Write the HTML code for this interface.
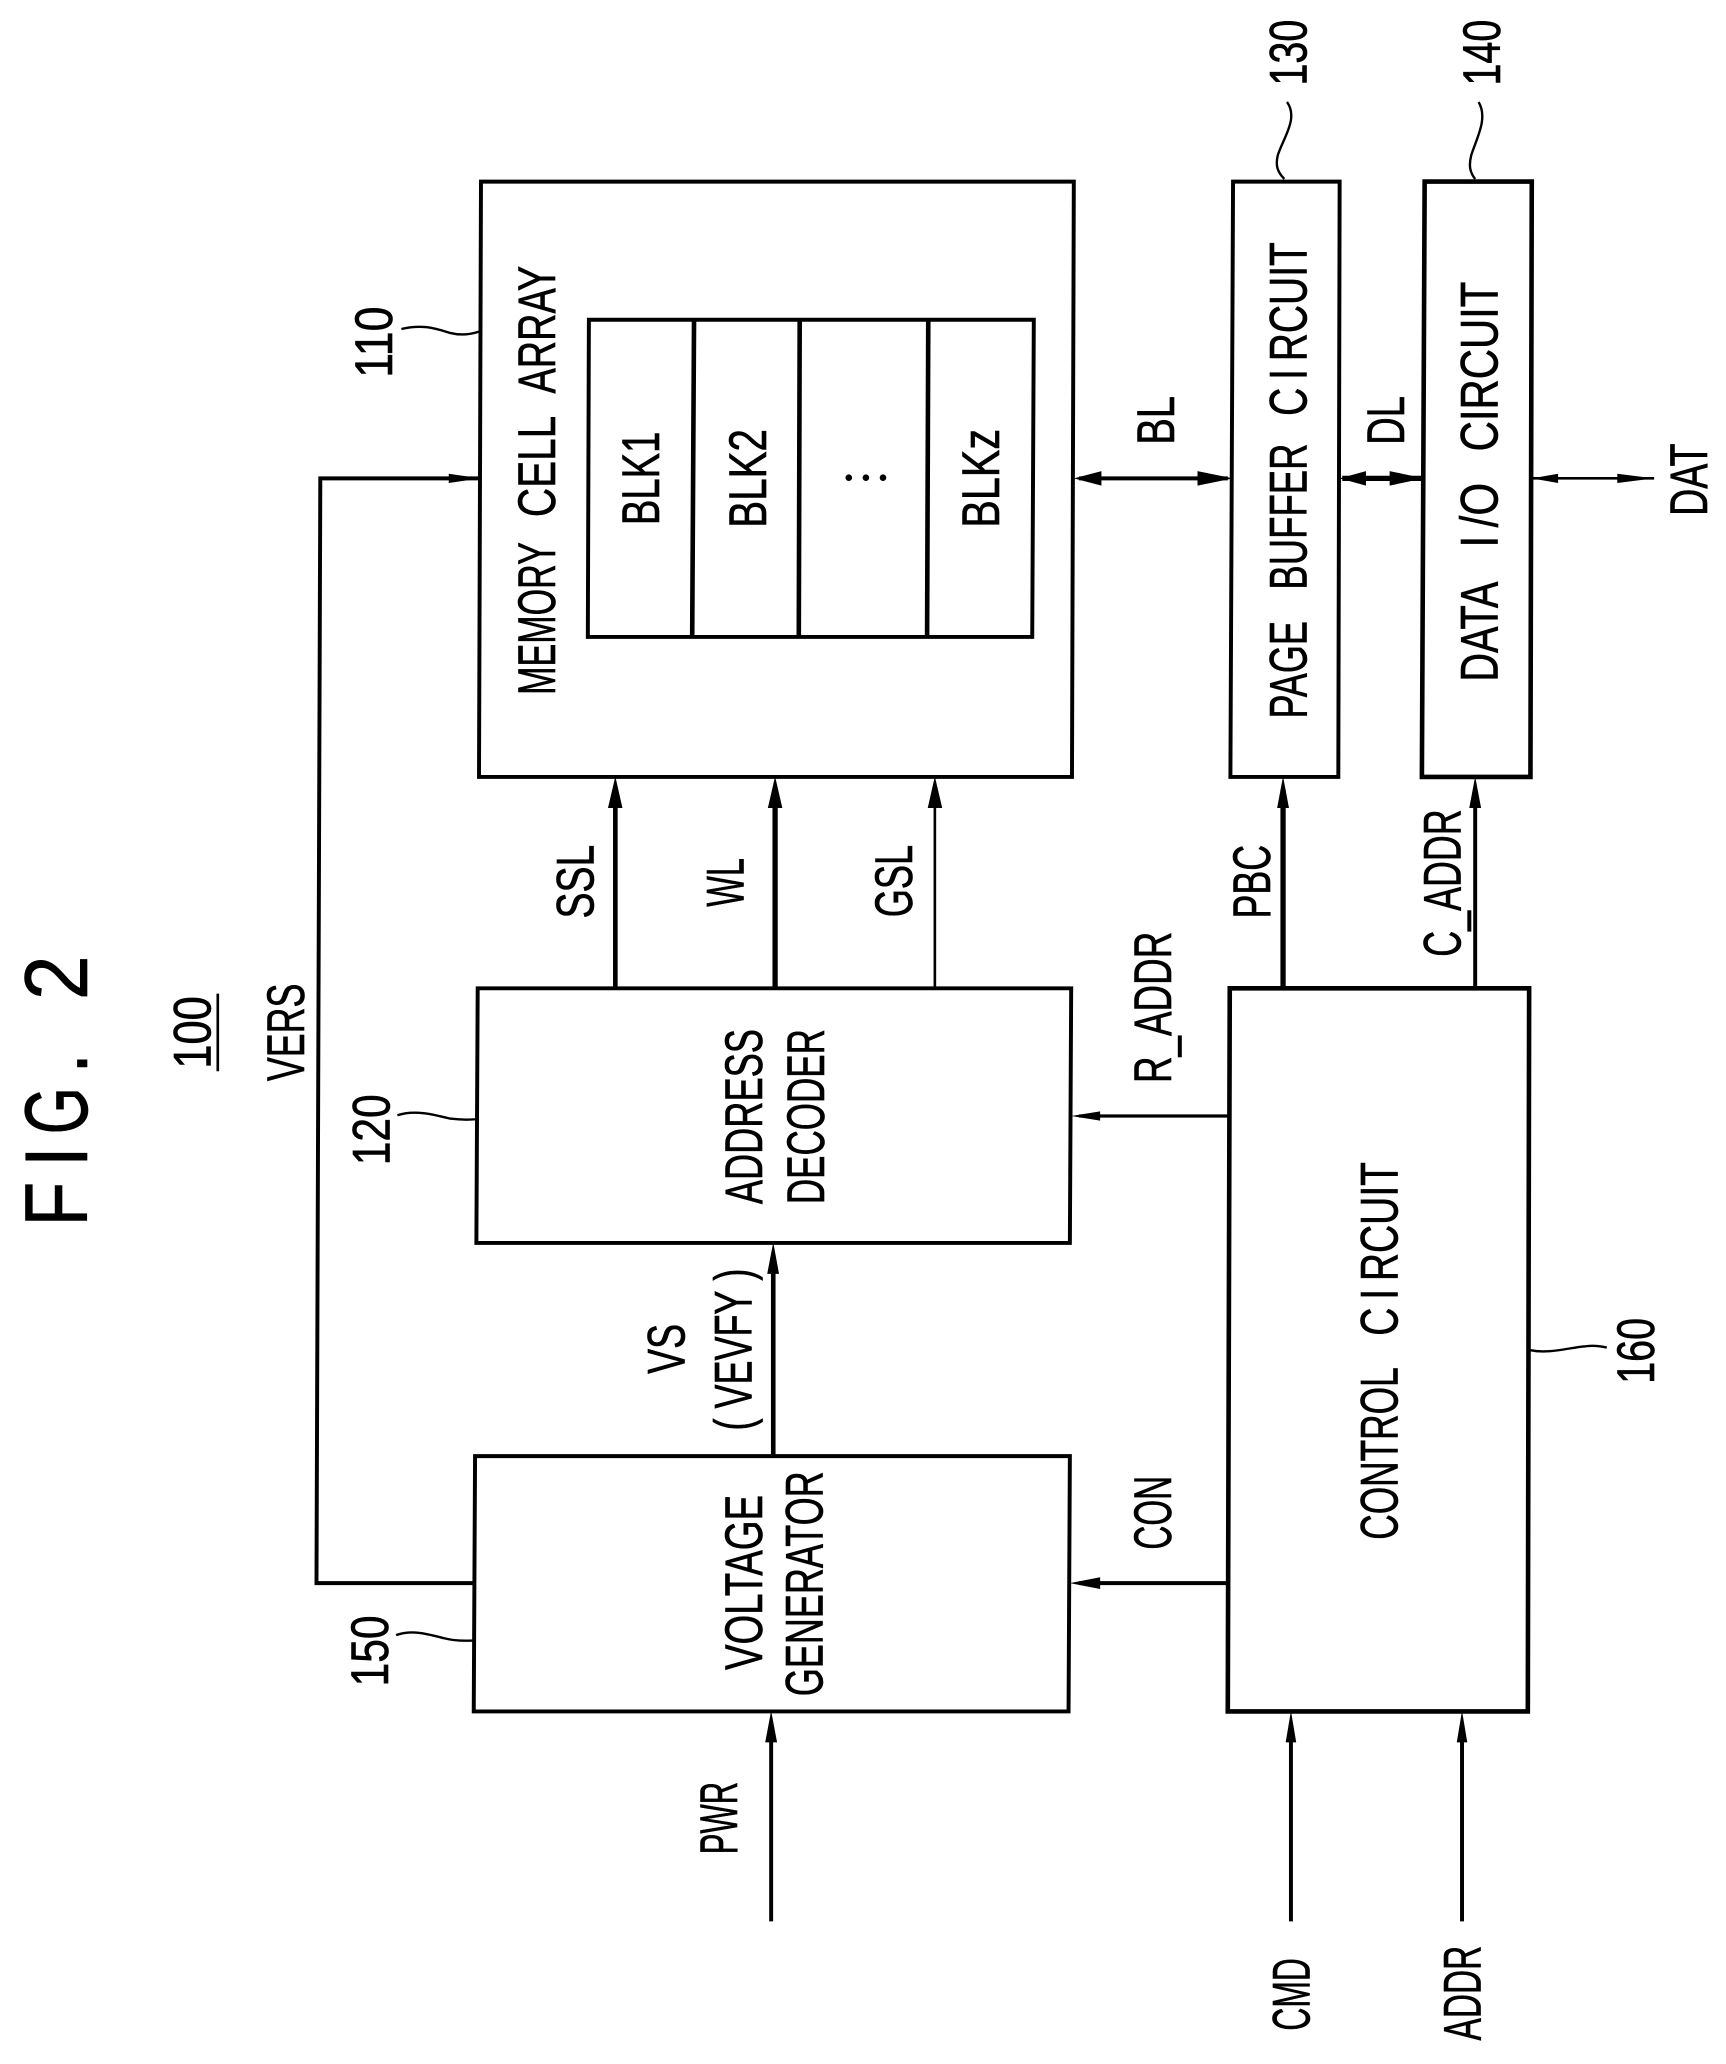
<!DOCTYPE html>
<html><head><meta charset="utf-8"><style>
html,body{margin:0;padding:0;background:#fff}
svg{display:block}
text{font-family:"Liberation Sans",sans-serif;font-size:40px;fill:#000;stroke:#000;stroke-width:.5}
.b{fill:none;stroke:#000;stroke-width:3}
.l{fill:none;stroke:#000}
.w{fill:none;stroke:#000;stroke-width:1.8}
</style></head><body>
<svg width="1726" height="2064" viewBox="0 0 1311.6 1568.4" preserveAspectRatio="none" xmlns="http://www.w3.org/2000/svg">
<rect width="1312" height="1569" fill="#fff"/>
<!-- boxes -->
<polygon class="b" points="365.5,138 816,138 814.6,590.4 364,590.4"/>
<polygon class="b" points="447.5,243 785.6,243 784.4,484 446.7,484"/>
<path class="l" stroke-width="3.5" d="M527.4,243L526,484M607.7,243L607,484M705.4,243L704.5,484"/>
<polygon class="b" points="937,138 1018,138 1017,590.4 935,590.4"/>
<polygon class="b" style="stroke-width:3.5" points="1082.6,138 1164,138 1163,590.4 1080.5,590.4"/>
<polygon class="b" points="363,751 814,751 813,944.5 362,944.5"/>
<polygon class="b" points="361,1106.5 813,1106.5 812,1300.5 360,1300.5"/>
<polygon class="b" style="stroke-width:3.5" points="934.5,751 1162,751 1161,1300.5 933,1300.5"/>
<!-- VERS -->
<path class="l" stroke-width="3" d="M361,1203H240.5L243.4,363.5H365"/>
<polygon points="365,363.5 341,360 341,367"/>
<!-- up arrows -->
<path class="l" stroke-width="3.5" d="M467.6,751V600"/><polygon points="467.6,590 462,614 473,614"/>
<path class="l" stroke-width="4" d="M589,751V600"/><polygon points="589,590 583.5,614 594.5,614"/>
<path class="l" stroke-width="2" d="M710.4,751V600"/><polygon points="710.4,590 705,614 716,614"/>
<path class="l" stroke-width="4" d="M975,751V600"/><polygon points="975,590 970.5,614 979.5,614"/>
<path class="l" stroke-width="3" d="M1121,751V600"/><polygon points="1121,590 1116.5,614 1125.5,614"/>
<path class="l" stroke-width="3.5" d="M587.6,1106V955"/><polygon points="587.6,944 583,968 592,968"/>
<path class="l" stroke-width="3" d="M586,1460V1310"/><polygon points="586,1300 581.5,1324 590.5,1324"/>
<path class="l" stroke-width="3" d="M981,1460V1310"/><polygon points="981,1300 977,1324 985,1324"/>
<path class="l" stroke-width="3" d="M1111,1460V1310"/><polygon points="1111,1300 1107,1324 1115,1324"/>
<!-- left arrows -->
<path class="l" stroke-width="2.5" d="M934,848H820"/><polygon points="814,848 836,844.5 836,851.5"/>
<path class="l" stroke-width="3" d="M933,1203H820"/><polygon points="813,1203 836,1198.5 836,1207.5"/>
<!-- double arrows -->
<path class="l" stroke-width="3" d="M820,363.5H933"/><polygon points="816,363.5 837,358 837,369"/><polygon points="937,363.5 910,358 910,369"/>
<path class="l" stroke-width="4" d="M1020,363.5H1080"/><polygon points="1018,363.5 1038,358 1038,369"/><polygon points="1082,363.5 1056,358 1056,369"/>
<path class="l" stroke-width="2" d="M1165,363.5H1257"/><polygon points="1164,363.5 1184,360 1184,367"/><polygon points="1257,363.5 1229,360 1229,367"/>
<!-- leaders -->
<path class="w" d="M305,250C322,246 332,250 342,253C350,255 358,254 364,252"/>
<path class="w" d="M302,847.5C315,843 330,847 342,850C350,851 356,851 362,850.5"/>
<path class="w" d="M301,1242.5C314,1238 326,1242 338,1245C346,1247 354,1247 360.5,1246.5"/>
<path class="w" d="M978,77.5C987,90 975,105 971,118C969,126 971,131 976,136"/>
<path class="w" d="M1123.6,77.5C1131,90 1122,105 1118,118C1116,126 1117,131 1121,136"/>
<path class="w" d="M1163,1026C1177,1029 1192,1024 1205,1023C1212,1022 1217,1023 1221,1024"/>
<!-- dots -->
<circle cx="645" cy="363" r="2.5"/><circle cx="658" cy="363" r="2.5"/><circle cx="671" cy="363" r="2.5"/>
<!-- underline 100 -->
<path class="l" stroke-width="2" d="M165.5,755V814"/>
<!-- labels -->
<text transform="translate(421.6,528) rotate(-90)" textLength="116" lengthAdjust="spacingAndGlyphs">MEMORY</text>
<text transform="translate(421.6,393) rotate(-90)" textLength="77" lengthAdjust="spacingAndGlyphs">CELL</text>
<text transform="translate(421.6,299) rotate(-90)" textLength="97" lengthAdjust="spacingAndGlyphs">ARRAY</text>
<text transform="translate(500.6,399) rotate(-90)" textLength="71" lengthAdjust="spacingAndGlyphs">BLK1</text>
<text transform="translate(582,401) rotate(-90)" textLength="75" lengthAdjust="spacingAndGlyphs">BLK2</text>
<text transform="translate(759,401) rotate(-90)" textLength="75" lengthAdjust="spacingAndGlyphs">BLKz</text>
<text transform="translate(451,698) rotate(-90)" textLength="56" lengthAdjust="spacingAndGlyphs">SSL</text>
<text transform="translate(565,689) rotate(-90)" textLength="37" lengthAdjust="spacingAndGlyphs">WL</text>
<text transform="translate(693,697) rotate(-90)" textLength="55" lengthAdjust="spacingAndGlyphs">GSL</text>
<text transform="translate(298,287) rotate(-90)" textLength="54" lengthAdjust="spacingAndGlyphs">110</text>
<text transform="translate(993,65) rotate(-90)" textLength="50" lengthAdjust="spacingAndGlyphs">130</text>
<text transform="translate(1140,65) rotate(-90)" textLength="50" lengthAdjust="spacingAndGlyphs">140</text>
<text transform="translate(992.7,546) rotate(-90)" textLength="74" lengthAdjust="spacingAndGlyphs">PAGE</text>
<text transform="translate(992.7,448) rotate(-90)" textLength="111" lengthAdjust="spacingAndGlyphs">BUFFER</text>
<text transform="translate(992.7,316) rotate(-90)" textLength="132" lengthAdjust="spacingAndGlyphs">C&#8201;I&#8201;RCUIT</text>
<text transform="translate(1138,518) rotate(-90)" textLength="76" lengthAdjust="spacingAndGlyphs">DATA</text>
<text transform="translate(1138,416) rotate(-90)" textLength="49" lengthAdjust="spacingAndGlyphs">I&#8201;/O</text>
<text transform="translate(1138,343) rotate(-90)" textLength="129" lengthAdjust="spacingAndGlyphs">CIRCUIT</text>
<text transform="translate(892,338) rotate(-90)" textLength="37" lengthAdjust="spacingAndGlyphs">BL</text>
<text transform="translate(1067,338) rotate(-90)" textLength="37" lengthAdjust="spacingAndGlyphs">DL</text>
<text transform="translate(1297,392) rotate(-90)" textLength="55" lengthAdjust="spacingAndGlyphs">DAT</text>
<text transform="translate(965,698) rotate(-90)" textLength="56" lengthAdjust="spacingAndGlyphs">PBC</text>
<text transform="translate(1110,727) rotate(-90)" textLength="112" lengthAdjust="spacingAndGlyphs">C_ADDR</text>
<text transform="translate(890,823) rotate(-90)" textLength="115" lengthAdjust="spacingAndGlyphs">R_ADDR</text>
<text transform="translate(579,915) rotate(-90)" textLength="133" lengthAdjust="spacingAndGlyphs">ADDRESS</text>
<text transform="translate(626,915) rotate(-90)" textLength="133" lengthAdjust="spacingAndGlyphs">DECODER</text>
<text transform="translate(520,1044) rotate(-90)" textLength="38" lengthAdjust="spacingAndGlyphs">VS</text>
<text transform="translate(571,1087) rotate(-90)" textLength="123" lengthAdjust="spacingAndGlyphs">(&#160;VEVFY&#160;)</text>
<text transform="translate(579,1269) rotate(-90)" textLength="133" lengthAdjust="spacingAndGlyphs">VOLTAGE</text>
<text transform="translate(625,1289) rotate(-90)" textLength="171" lengthAdjust="spacingAndGlyphs">GENERATOR</text>
<text transform="translate(231,821.5) rotate(-90)" textLength="74" lengthAdjust="spacingAndGlyphs">VERS</text>
<text transform="translate(160,812) rotate(-90)" textLength="55" lengthAdjust="spacingAndGlyphs">100</text>
<text transform="translate(1062,1170) rotate(-90)" textLength="131" lengthAdjust="spacingAndGlyphs">CONTROL</text>
<text transform="translate(1062,1015) rotate(-90)" textLength="132" lengthAdjust="spacingAndGlyphs">C&#8201;I&#8201;RCUIT</text>
<text transform="translate(890,1177.5) rotate(-90)" textLength="56" lengthAdjust="spacingAndGlyphs">CON</text>
<text transform="translate(1257,1051.5) rotate(-90)" textLength="50" lengthAdjust="spacingAndGlyphs">160</text>
<text transform="translate(295,1281.5) rotate(-90)" textLength="54" lengthAdjust="spacingAndGlyphs">150</text>
<text transform="translate(296,885.5) rotate(-90)" textLength="54" lengthAdjust="spacingAndGlyphs">120</text>
<text transform="translate(560,1409) rotate(-90)" textLength="55" lengthAdjust="spacingAndGlyphs">PWR</text>
<text transform="translate(995,1543) rotate(-90)" textLength="55" lengthAdjust="spacingAndGlyphs">CMD</text>
<text transform="translate(1125,1550.5) rotate(-90)" textLength="72" lengthAdjust="spacingAndGlyphs">ADDR</text>
<!-- title -->
<text style="font-size:68px" transform="translate(66,932) rotate(-90)" textLength="34" lengthAdjust="spacingAndGlyphs">F</text>
<text style="font-size:68px" transform="translate(66,887) rotate(-90)" textLength="16" lengthAdjust="spacingAndGlyphs">I</text>
<text style="font-size:68px" transform="translate(66,862) rotate(-90)" textLength="36" lengthAdjust="spacingAndGlyphs">G</text>
<text style="font-size:68px" transform="translate(66,816) rotate(-90)" textLength="16" lengthAdjust="spacingAndGlyphs">.</text>
<text style="font-size:68px" transform="translate(66,760) rotate(-90)" textLength="34" lengthAdjust="spacingAndGlyphs">2</text>
</svg>
</body></html>
